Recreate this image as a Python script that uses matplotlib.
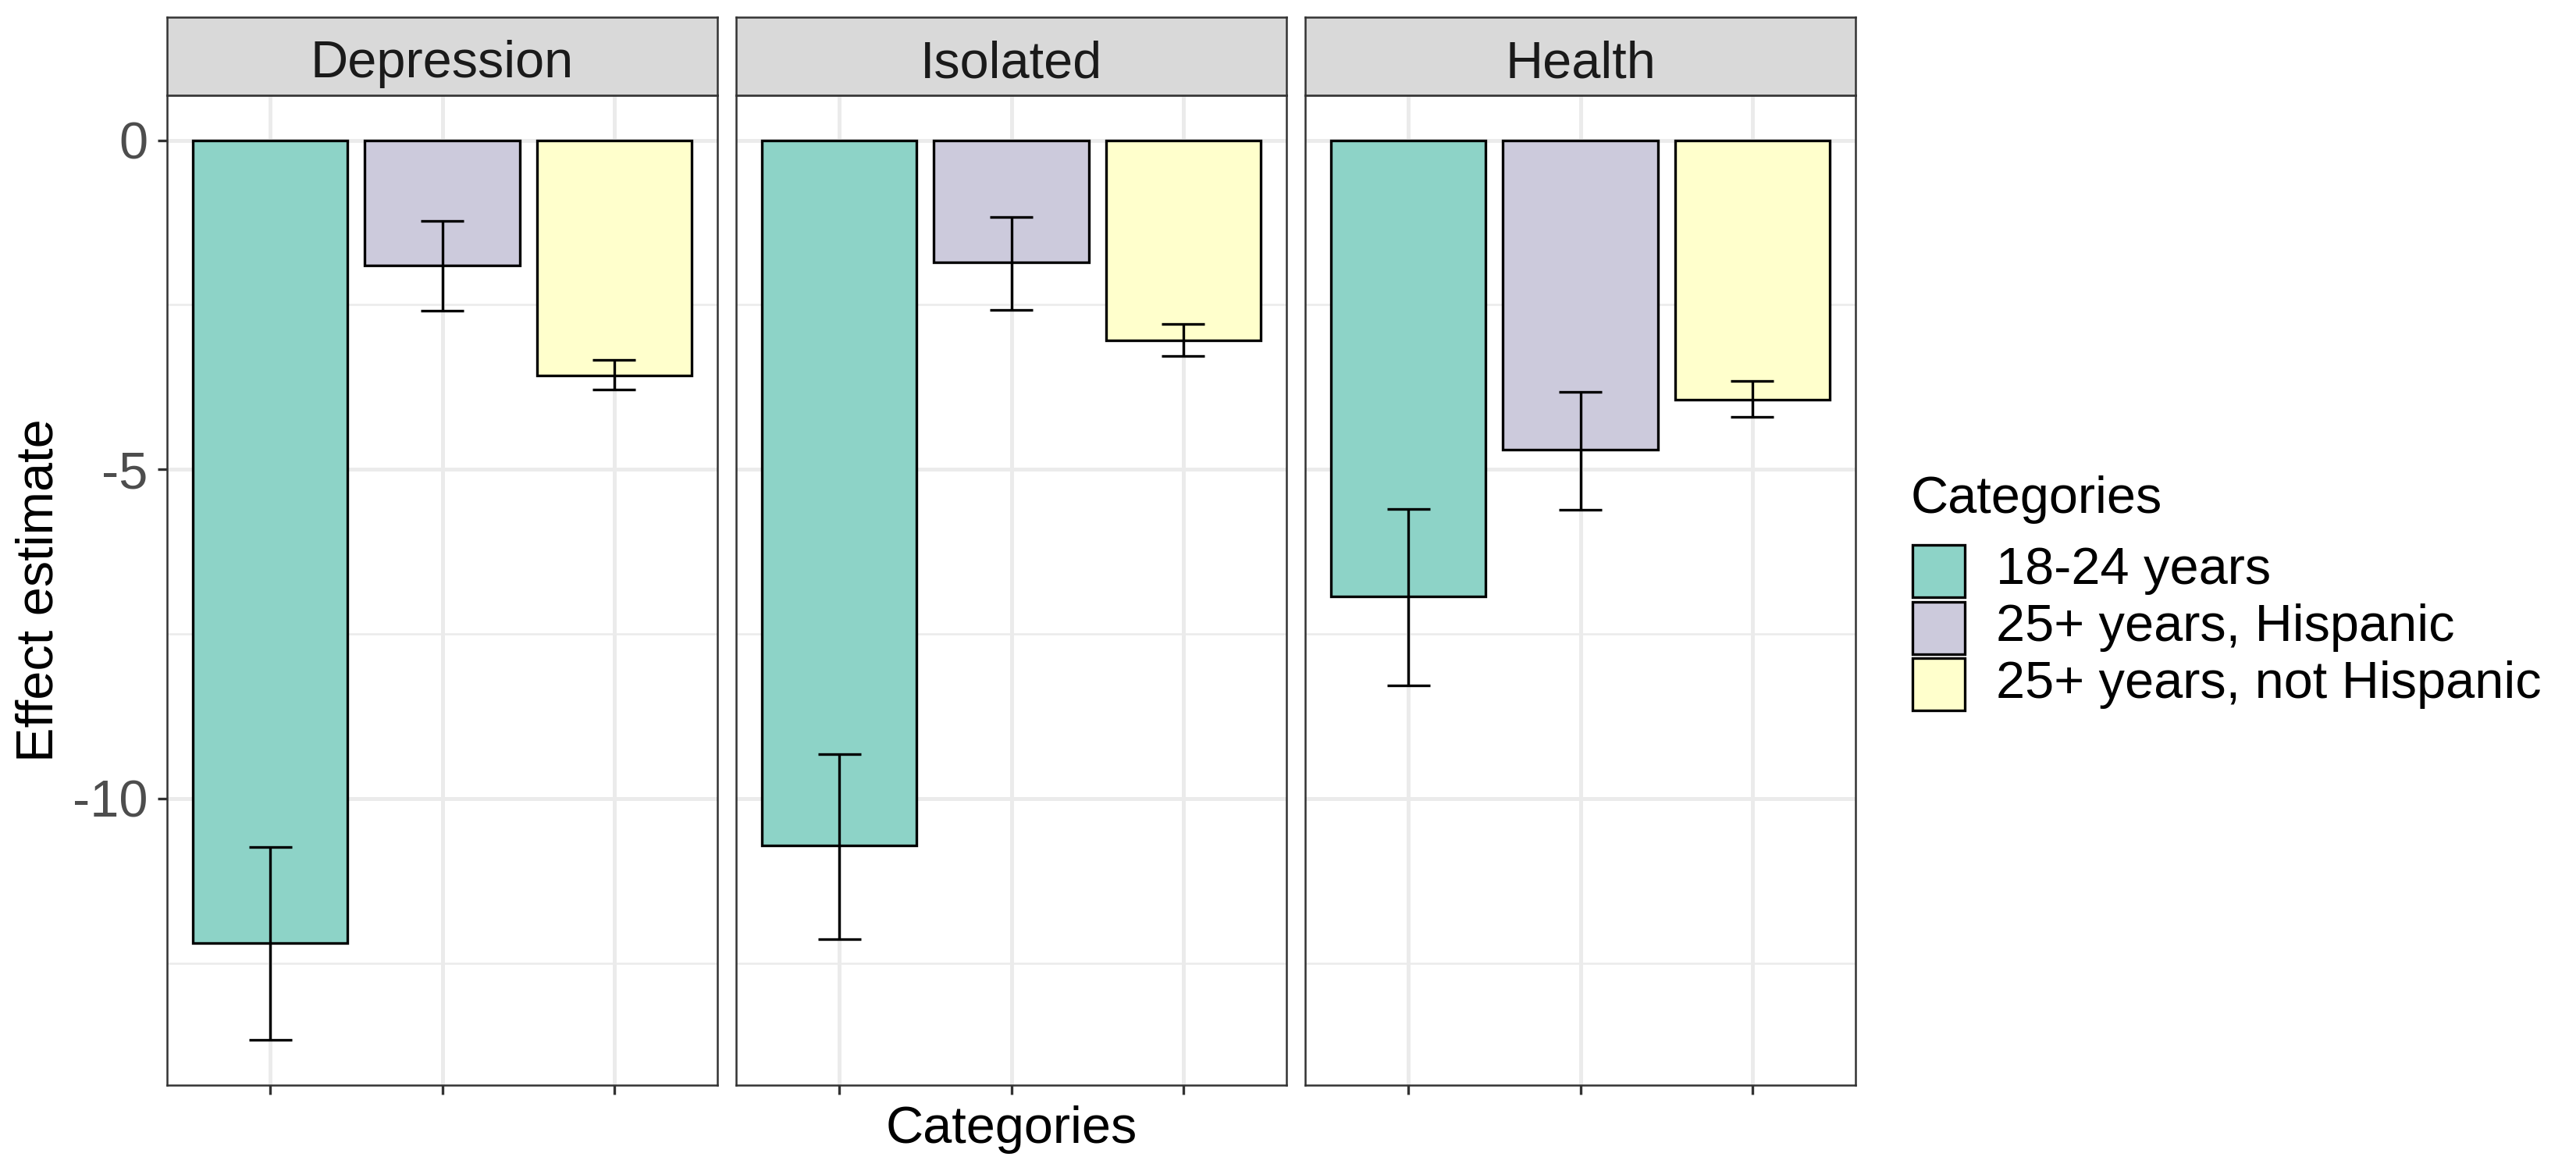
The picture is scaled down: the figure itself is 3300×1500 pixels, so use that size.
import numpy as np
import matplotlib
matplotlib.use("Agg")
import matplotlib.pyplot as plt
from matplotlib.patches import Rectangle

plt.rcParams['font.family'] = ['Liberation Sans', 'DejaVu Sans']
plt.rcParams['axes.unicode_minus'] = False

outcomes = ["Depression", "Isolated", "Health"]
categories = ["18-24 years", "25+ years, Hispanic", "25+ years, not Hispanic"]
colors = ["#8DD3C7", "#CCCADC", "#FFFFCC"]

# effect estimates per outcome (order = categories)
depression = [-12.20, -1.90, -3.57]
isolated = [-10.71, -1.86, -3.04]
health = [-6.93, -4.70, -3.94]

# confidence limits
depression_lo = [-13.67, -2.59, -3.79]
depression_hi = [-10.74, -1.22, -3.34]
isolated_lo = [-12.14, -2.58, -3.28]
isolated_hi = [-9.32, -1.17, -2.79]
health_lo = [-8.28, -5.61, -4.20]
health_hi = [-5.60, -3.82, -3.66]

estimates = [depression, isolated, health]
lowers = [depression_lo, isolated_lo, health_lo]
uppers = [depression_hi, isolated_hi, health_hi]

W, H = 3300, 1500
fig = plt.figure(figsize=(11, 5), dpi=300)

# y range like ggplot: data range + 5% expansion
ymin = min(min(l) for l in lowers)
ymax = max(0, max(max(u) for u in uppers))
pad = 0.05 * (ymax - ymin)
ylim = (ymin - pad, ymax + pad)

lefts = [214, 943, 1672]
pw = 705
ptop, pbot = 122, 1390
strip_top = 22

x = np.arange(1, 4)
for i, name in enumerate(outcomes):
    ax = fig.add_axes([lefts[i] / W, 1 - pbot / H, pw / W, (pbot - ptop) / H])
    ax.set_xlim(0.4, 3.6)
    ax.set_ylim(*ylim)
    ax.set_yticks([0, -5, -10])
    ax.set_yticks([-2.5, -7.5, -12.5], minor=True)
    ax.set_xticks(x)
    ax.set_xticklabels([])
    ax.grid(which='major', color='#EBEBEB', linewidth=1.2)
    ax.grid(which='minor', axis='y', color='#EBEBEB', linewidth=0.6)
    ax.set_axisbelow(True)
    ax.tick_params(which='minor', length=0)
    ax.tick_params(which='major', length=2.9, width=0.8, color='#333333',
                   labelsize=16, labelcolor='#4D4D4D', pad=2.9)
    for s in ax.spines.values():
        s.set_color('#333333')
        s.set_linewidth(0.6)
    if i == 0:
        ax.set_yticklabels(['0', '-5', '-10'])
    else:
        ax.set_yticklabels([])
        ax.tick_params(axis='y', length=0)

    ax.bar(x, estimates[i], width=0.9, color=colors, edgecolor='black',
           linewidth=0.8, zorder=2)
    ax.vlines(x, lowers[i], uppers[i], color='black', linewidth=0.8, zorder=3)
    ax.hlines(lowers[i], x - 0.125, x + 0.125, color='black', linewidth=0.8, zorder=3)
    ax.hlines(uppers[i], x - 0.125, x + 0.125, color='black', linewidth=0.8, zorder=3)

    sax = fig.add_axes([lefts[i] / W, 1 - ptop / H, pw / W, (ptop - strip_top) / H])
    sax.set_facecolor('#D9D9D9')
    sax.set_xticks([])
    sax.set_yticks([])
    for s in sax.spines.values():
        s.set_color('#333333')
        s.set_linewidth(0.6)
    sax.text(0.5, 0.23, name, ha='center', va='baseline', fontsize=16,
             color='#1A1A1A', transform=sax.transAxes)

fig.text(51 / W, 1 - (ptop + pbot) / 2 / H, "Effect estimate", rotation=90,
         ha='center', va='center', fontsize=16)
fig.text((lefts[0] + lefts[2] + pw) / 2 / W, 1 - 1464 / H, "Categories",
         ha='center', va='baseline', fontsize=16)

# legend
fig.text(2448 / W, 1 - 657 / H, "Categories", ha='left', va='baseline', fontsize=16)
key = 67
for j, (lab, c) in enumerate(zip(categories, colors)):
    top = 698 + j * 72.5
    fig.patches.append(Rectangle((2450 / W, 1 - (top + key) / H), key / W, key / H,
                                 facecolor=c, edgecolor='black', linewidth=0.8,
                                 transform=fig.transFigure))
    fig.text(2557 / W, 1 - (top + key / 2) / H, lab, ha='left', va='center',
             fontsize=16)

fig.savefig("out.png", dpi=300)
